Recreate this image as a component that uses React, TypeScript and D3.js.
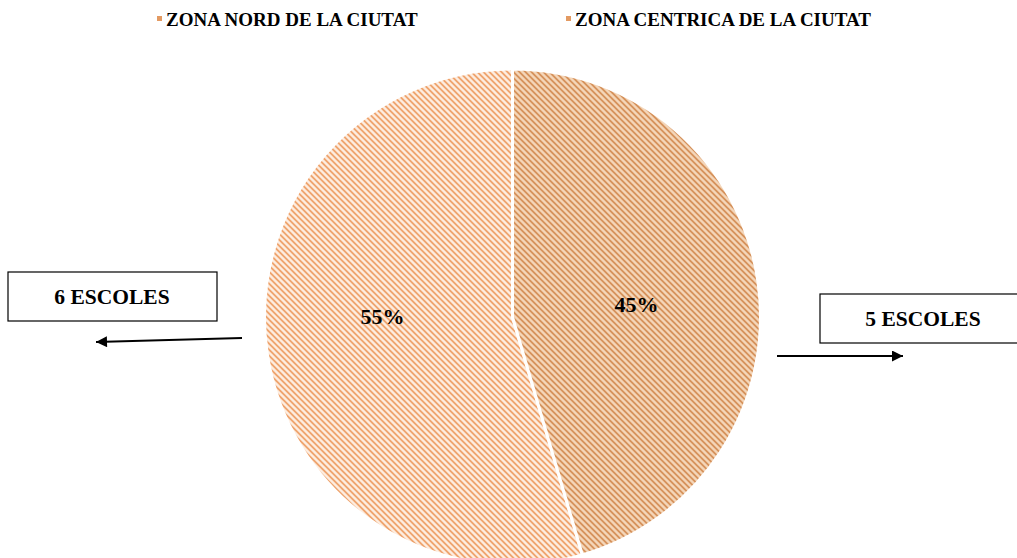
import React, { useRef, useEffect } from "react";
import * as d3 from "d3";

const ZONES = ["ZONA NORD DE LA CIUTAT", "ZONA CENTRICA DE LA CIUTAT"];
const SCHOOLS = [6, 5];
const PERCENT_LABELS = ["55%", "45%"];
const BOX_LABELS = ["6 ESCOLES", "5 ESCOLES"];

const W = 1017;
const H = 558;
const FONT = "'Liberation Serif', 'Times New Roman', serif";

const App: React.FC = () => {
  const svgRef = useRef<SVGSVGElement | null>(null);

  useEffect(() => {
    if (!svgRef.current) return;
    const svg = d3.select(svgRef.current);
    svg.selectAll("*").remove();

    const cx = 512.5;
    const cy = 317;
    const r = 248;

    /* patterns: diagonal stripes */
    const defs = svg.append("defs");
    const pats = [
      { id: "pat-nord", bg: "#fdede0", fg: "#ea8d4a" },
      { id: "pat-centre", bg: "#f4d6b9", fg: "#cc7c3e" },
    ];
    pats.forEach((p) => {
      const pt = defs
        .append("pattern")
        .attr("id", p.id)
        .attr("patternUnits", "userSpaceOnUse")
        .attr("width", 6)
        .attr("height", 6);
      pt.append("rect").attr("width", 6).attr("height", 6).attr("fill", p.bg);
      pt.append("path")
        .attr("d", "M0,0 L6,6 M-2,4 L2,8 M4,-2 L8,2")
        .attr("stroke", p.fg)
        .attr("stroke-width", 1.4);
    });

    /* pie */
    const total = d3.sum(SCHOOLS);
    const start = (SCHOOLS[1] / total) * 2 * Math.PI;
    const pie = d3
      .pie<number>()
      .sort(null)
      .startAngle(start)
      .endAngle(start + 2 * Math.PI);
    const arcs = pie(SCHOOLS);
    const arc = d3.arc<d3.PieArcDatum<number>>().innerRadius(0).outerRadius(r);

    const g = svg.append("g").attr("transform", `translate(${cx},${cy})`);
    g.selectAll("path")
      .data(arcs)
      .join("path")
      .attr("d", arc)
      .attr("fill", (_, i) => `url(#${pats[i].id})`)
      .attr("stroke", "#ffffff")
      .attr("stroke-width", 3)
      .attr("stroke-linejoin", "round");

    /* percentage labels */
    const labelArc = d3.arc<d3.PieArcDatum<number>>().innerRadius(r * 0.55).outerRadius(r * 0.55);
    g.selectAll("text.pct")
      .data(arcs)
      .join("text")
      .attr("class", "pct")
      .attr("x", (d, i) => labelArc.centroid(d)[0] + (i === 0 ? 5 : -11))
      .attr("y", (d, i) => (i === 0 ? 7 : -5))
      .attr("text-anchor", "middle")
      .style("font-family", FONT)
      .style("font-weight", "bold")
      .style("font-size", "22px")
      .attr("fill", "#000")
      .text((_, i) => PERCENT_LABELS[i]);

    /* legend */
    const legendX = [157, 566];
    const lg = svg.append("g");
    ZONES.forEach((z, i) => {
      lg.append("rect")
        .attr("x", legendX[i])
        .attr("y", 16)
        .attr("width", 5)
        .attr("height", 5)
        .attr("fill", "#e39a62");
      lg.append("text")
        .attr("x", legendX[i] + 9)
        .attr("y", 26)
        .style("font-family", FONT)
        .style("font-weight", "bold")
        .style("font-size", "19px")
        .attr("fill", "#000")
        .text(z);
    });

    /* callout boxes */
    const boxes = [
      { x: 8, y: 272, w: 209, h: 49 },
      { x: 820, y: 294, w: 200, h: 49 },
    ];
    boxes.forEach((b, i) => {
      svg.append("rect")
        .attr("x", b.x)
        .attr("y", b.y)
        .attr("width", b.w)
        .attr("height", b.h)
        .attr("fill", "#fff")
        .attr("stroke", "#000")
        .attr("stroke-width", 1.2);
      svg.append("text")
        .attr("x", i === 0 ? 112 : 923)
        .attr("y", b.y + b.h / 2 + 7)
        .attr("text-anchor", "middle")
        .style("font-family", FONT)
        .style("font-weight", "bold")
        .style("font-size", "21.5px")
        .attr("fill", "#000")
        .text(BOX_LABELS[i]);
    });

    /* arrows */
    defs.append("marker")
      .attr("id", "arrowhead")
      .attr("viewBox", "0 0 10 10")
      .attr("refX", 10)
      .attr("refY", 5)
      .attr("markerWidth", 15)
      .attr("markerHeight", 11)
      .attr("markerUnits", "userSpaceOnUse")
      .attr("orient", "auto")
      .append("path")
      .attr("d", "M0,0 L10,5 L0,10 Z")
      .attr("fill", "#000");

    const arrowLines = [
      [242, 338, 96, 342],
      [777, 356, 903, 356],
    ];
    arrowLines.forEach(([x1, y1, x2, y2]) => {
      svg.append("line")
        .attr("x1", x1)
        .attr("y1", y1)
        .attr("x2", x2)
        .attr("y2", y2)
        .attr("stroke", "#000")
        .attr("stroke-width", 2)
        .attr("marker-end", "url(#arrowhead)");
    });
  }, []);

  return (
    <svg
      ref={svgRef}
      width={W}
      height={H}
      style={{ position: "absolute", left: 0, top: 0, background: "#fff" }}
    />
  );
};

export default App;
